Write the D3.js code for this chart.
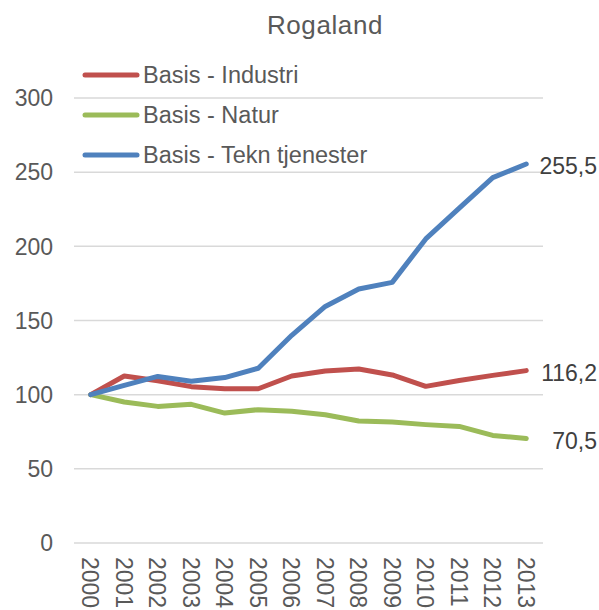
<!DOCTYPE html>
<html>
<head>
<meta charset="utf-8">
<script src="https://cdn.jsdelivr.net/npm/d3@7"></script>
<style>
  html, body { margin: 0; padding: 0; background: #fff; }
  svg { display: block; }
</style>
</head>
<body>
<div id="chart"></div>
<script>
// data
const years = ["2000", "2001", "2002", "2003", "2004", "2005", "2006", "2007", "2008", "2009", "2010", "2011", "2012", "2013"];
const industri = [100, 112.6, 109.4, 105.4, 104, 104, 112.6, 116, 117.3, 113.3, 105.6, 109.6, 113, 116.2];
const natur = [100, 95.1, 92.1, 93.5, 87.6, 89.9, 88.8, 86.5, 82.3, 81.5, 79.8, 78.6, 72.5, 70.5];
const tekn = [100, 106.3, 112.3, 109, 111.5, 117.8, 140, 159.5, 171.2, 175.7, 205, 225.7, 246.3, 255.5];
const yTicks = [0, 50, 100, 150, 200, 250, 300];

const series = [
  { name: "Basis - Industri", values: industri, color: "#C0504D" },
  { name: "Basis - Natur", values: natur, color: "#9BBB59" },
  { name: "Basis - Tekn tjenester", values: tekn, color: "#4F81BD" },
];

const width = 599, height = 610;
const plotLeft = 74, plotRight = 543, plotTop = 98, plotBottom = 543;
const font = "'Liberation Sans', Arial, sans-serif";
const labelColor = "#595959";

const fmt = d3.formatLocale({ decimal: ",", thousands: " ", grouping: [3], currency: ["", ""] }).format(".1f");

const svg = d3.select("#chart").append("svg")
  .attr("width", width)
  .attr("height", height)
  .attr("font-family", font);

const x = d3.scalePoint().domain(years).range([plotLeft, plotRight]).padding(0.5);
const y = d3.scaleLinear().domain([0, 300]).range([plotBottom, plotTop]);

// gridlines
svg.append("g").selectAll("line")
  .data(yTicks)
  .join("line")
  .attr("x1", plotLeft).attr("x2", plotRight)
  .attr("y1", d => y(d)).attr("y2", d => y(d))
  .attr("stroke", "#D9D9D9")
  .attr("stroke-width", 1.5);

// y labels
svg.append("g").selectAll("text")
  .data(yTicks)
  .join("text")
  .attr("x", 53)
  .attr("y", d => y(d))
  .attr("dy", "0.36em")
  .attr("text-anchor", "end")
  .attr("font-size", 23)
  .attr("fill", labelColor)
  .text(d => d);

// x labels, rotated
svg.append("g").selectAll("text")
  .data(years)
  .join("text")
  .attr("transform", d => `translate(${x(d)},557) rotate(90)`)
  .attr("dy", "0.36em")
  .attr("text-anchor", "start")
  .attr("font-size", 23)
  .attr("fill", labelColor)
  .text(d => d);

// lines
const line = d3.line()
  .x((d, i) => x(years[i]))
  .y(d => y(d));

svg.append("g").selectAll("path")
  .data(series)
  .join("path")
  .attr("d", d => line(d.values))
  .attr("fill", "none")
  .attr("stroke", d => d.color)
  .attr("stroke-width", 5)
  .attr("stroke-linejoin", "round")
  .attr("stroke-linecap", "round");

// end labels
svg.append("g").selectAll("text")
  .data(series)
  .join("text")
  .attr("x", 597)
  .attr("y", d => y(d.values[d.values.length - 1]) + 2)
  .attr("dy", "0.36em")
  .attr("text-anchor", "end")
  .attr("font-size", 23)
  .attr("fill", "#404040")
  .text(d => fmt(d.values[d.values.length - 1]));

// legend
const legend = svg.append("g").selectAll("g")
  .data(series)
  .join("g")
  .attr("transform", (d, i) => `translate(0,${75 + i * 40})`);
legend.append("line")
  .attr("x1", 85).attr("x2", 137)
  .attr("stroke", d => d.color)
  .attr("stroke-width", 5)
  .attr("stroke-linecap", "round");
legend.append("text")
  .attr("x", 143)
  .attr("dy", "0.36em")
  .attr("font-size", 23.5)
  .attr("fill", labelColor)
  .text(d => d.name);

// title
svg.append("text")
  .attr("x", 325)
  .attr("y", 34)
  .attr("text-anchor", "middle")
  .attr("font-size", 26)
  .attr("letter-spacing", 0.6)
  .attr("fill", labelColor)
  .text("Rogaland");
</script>
</body>
</html>
